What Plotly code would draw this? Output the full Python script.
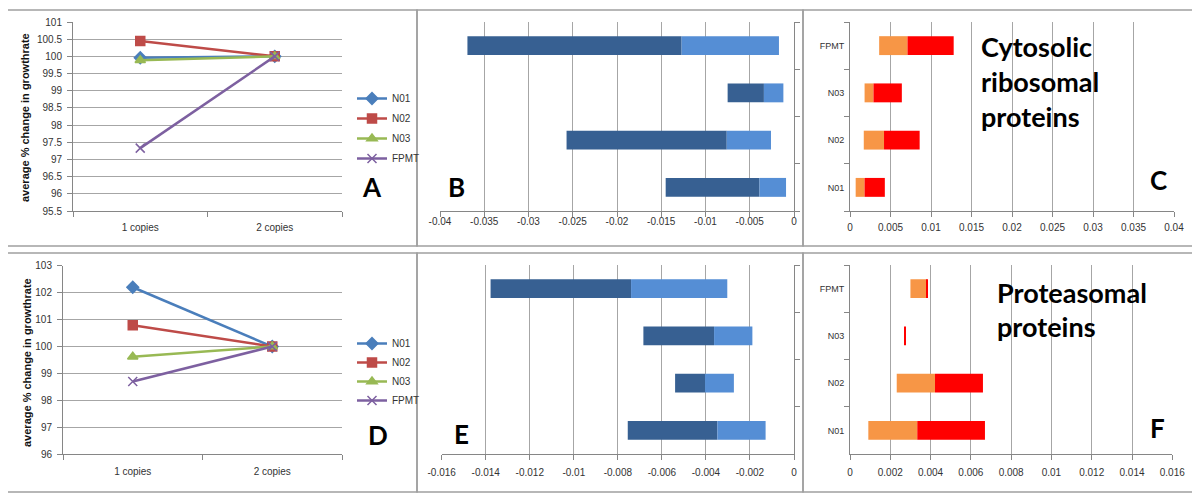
import plotly.graph_objects as go

W, H = 1200, 496
OFF = 8  # page body margin: the figure div starts 8px right/down in the window

# ---------------- data ----------------
copies = ["1 copies", "2 copies"]
series_names = ["N01", "N02", "N03", "FPMT"]

# Panel A (cytosolic ribosomal proteins) - average % change in growthrate
a_n01 = [99.96, 100.0]
a_n02 = [100.45, 100.0]
a_n03 = [99.89, 100.0]
a_fpmt = [97.33, 100.0]

# Panel D (proteasomal proteins)
d_n01 = [102.2, 100.0]
d_n02 = [100.79, 100.0]
d_n03 = [99.62, 100.0]
d_fpmt = [98.70, 100.0]

bar_cats = ["N01", "N02", "N03", "FPMT"]

# Panel B: floating bars (low -> mid dark, mid -> high light)
b_low = [-0.0145, -0.0257, -0.0075, -0.0369]
b_mid = [-0.0039, -0.0076, -0.0034, -0.0127]
b_high = [-0.0009, -0.0026, -0.0012, -0.0017]

# Panel C
c_low = [0.0007, 0.0017, 0.0018, 0.0036]
c_mid = [0.0018, 0.0042, 0.0029, 0.0071]
c_high = [0.0043, 0.0086, 0.0064, 0.0128]

# Panel E
e_low = [-0.00755, -0.0054, -0.00684, -0.01378]
e_mid = [-0.00348, -0.00404, -0.00363, -0.0074]
e_high = [-0.00129, -0.00273, -0.00189, -0.00303]

# Panel F
f_low = [0.00091, 0.00232, 0.0027, 0.0030]
f_mid = [0.00334, 0.00422, 0.0027, 0.0038]
f_high = [0.0067, 0.0066, 0.00277, 0.00385]

# tick labels
a_ticks = [95.5, 96, 96.5, 97, 97.5, 98, 98.5, 99, 99.5, 100, 100.5, 101]
d_ticks = [96, 97, 98, 99, 100, 101, 102, 103]
b_tickvals = [-0.04, -0.035, -0.03, -0.025, -0.02, -0.015, -0.01, -0.005, 0]
b_ticktext = ["-0.04", "-0.035", "-0.03", "-0.025", "-0.02", "-0.015", "-0.01", "-0.005", "0"]
c_tickvals = [0, 0.005, 0.01, 0.015, 0.02, 0.025, 0.03, 0.035, 0.04]
c_ticktext = ["0", "0.005", "0.01", "0.015", "0.02", "0.025", "0.03", "0.035", "0.04"]
e_tickvals = [-0.016, -0.014, -0.012, -0.01, -0.008, -0.006, -0.004, -0.002, 0]
e_ticktext = ["-0.016", "-0.014", "-0.012", "-0.01", "-0.008", "-0.006", "-0.004", "-0.002", "0"]
f_tickvals = [0, 0.002, 0.004, 0.006, 0.008, 0.01, 0.012, 0.014, 0.016]
f_ticktext = ["0", "0.002", "0.004", "0.006", "0.008", "0.01", "0.012", "0.014", "0.016"]

# ---------------- styles ----------------
line_colors = ["#4A7EBB", "#BE4B48", "#98B954", "#7D60A0"]
markers = ["diamond", "square", "triangle-up", "x-thin"]
marker_sizes = [9, 9, 9, 9]
dark_blue, light_blue = "#376092", "#558ED5"
orange, red = "#F79646", "#FF0000"
grid_c = "#A6A6A6"
axis_c = "#868686"
tick_font = dict(family="Liberation Sans, Arial", size=10, color="#333333")
big_font = "Lato, Calibri, sans-serif"


def dx(px):
    return (px - OFF) / W


def dy(py):
    return 1 - (py - OFF) / H


fig = go.Figure()

# ---------- line panels ----------
for vals_list, xa, ya, leg in [
    ([a_n01, a_n02, a_n03, a_fpmt], "x", "y", "legend"),
    ([d_n01, d_n02, d_n03, d_fpmt], "x4", "y4", "legend2"),
]:
    for i, vals in enumerate(vals_list):
        fig.add_trace(go.Scatter(
            x=copies, y=vals, mode="lines+markers", name=series_names[i],
            line=dict(color=line_colors[i], width=2.5),
            marker=dict(symbol=markers[i], size=marker_sizes[i], color=line_colors[i],
                        line=dict(color=line_colors[i], width=1.5)),
            xaxis=xa, yaxis=ya, legend=leg, legendgroup=leg + series_names[i],
            showlegend=True,
        ))

# ---------- bar panels ----------
def add_float_bars(low, mid, high, c1, c2, xa, ya):
    fig.add_trace(go.Bar(
        y=bar_cats, x=[m - l for l, m in zip(low, mid)], base=low, orientation="h",
        marker=dict(color=c1, line=dict(width=0)), width=0.4,
        xaxis=xa, yaxis=ya, showlegend=False))
    fig.add_trace(go.Bar(
        y=bar_cats, x=[h - m for m, h in zip(mid, high)], base=mid, orientation="h",
        marker=dict(color=c2, line=dict(width=0)), width=0.4,
        xaxis=xa, yaxis=ya, showlegend=False))


add_float_bars(b_low, b_mid, b_high, dark_blue, light_blue, "x2", "y2")
add_float_bars(c_low, c_mid, c_high, orange, red, "x3", "y3")
add_float_bars(e_low, e_mid, e_high, dark_blue, light_blue, "x5", "y5")
add_float_bars(f_low, f_mid, f_high, orange, red, "x6", "y6")

# ---------- axes ----------
def cat_xaxis(x0, x1, anchor, standoff):
    return dict(domain=[dx(x0), dx(x1)], anchor=anchor, type="category",
                range=[-0.5, 1.5], showgrid=False, showline=True, linecolor=axis_c,
                linewidth=1, ticks="outside", ticklen=5, tickcolor=axis_c,
                tickson="boundaries", tickfont=tick_font, zeroline=False,
                ticklabelstandoff=standoff, fixedrange=True, automargin=False)


def num_yaxis(y0, y1, anchor, rng, ticks):
    return dict(domain=[dy(y1), dy(y0)], anchor=anchor, range=rng,
                tickvals=ticks, showgrid=True, gridcolor=grid_c, gridwidth=1,
                showline=True, linecolor=axis_c, linewidth=1, ticks="outside",
                ticklen=5, tickcolor=axis_c, tickfont=tick_font, zeroline=False,
                ticklabelstandoff=3, fixedrange=True, automargin=False)


def num_xaxis(x0, x1, anchor, rng, tv, tt, standoff):
    return dict(domain=[dx(x0), dx(x1)], anchor=anchor, range=rng,
                tickvals=tv, ticktext=tt, showgrid=True, gridcolor=grid_c, gridwidth=1,
                showline=True, linecolor=axis_c, linewidth=1, ticks="outside",
                ticklen=5, tickcolor=axis_c, tickfont=tick_font, zeroline=False,
                ticklabelstandoff=standoff, fixedrange=True, automargin=False)


def cat_yaxis(y0, y1, anchor, side, labels):
    return dict(domain=[dy(y1), dy(y0)], anchor=anchor, type="category",
                range=[-0.5, 3.5], side=side, showgrid=False, showline=True,
                linecolor=axis_c, linewidth=1, ticks="outside", ticklen=5,
                tickcolor=axis_c, tickson="boundaries", showticklabels=labels,
                tickfont=dict(family="Liberation Sans, Arial", size=9, color="#333333"),
                zeroline=False, ticklabelstandoff=3, fixedrange=True, automargin=False)


legend_font = dict(family="Liberation Sans, Arial", size=10, color="#333333")

fig.update_layout(
    width=W, height=H, autosize=False,
    margin=dict(l=0, r=0, t=0, b=0, pad=0, autoexpand=False),
    paper_bgcolor="white", plot_bgcolor="white", barmode="overlay",
    xaxis=cat_xaxis(73, 342, "y", 7),
    yaxis=num_yaxis(22, 211, "x", [95.5, 101], a_ticks),
    xaxis2=num_xaxis(440, 794, "y2", [-0.04, 0], b_tickvals, b_ticktext, -4),
    yaxis2=cat_yaxis(22, 211, "x2", "right", False),
    xaxis3=num_xaxis(850, 1174, "y3", [0, 0.04], c_tickvals, c_ticktext, 2),
    yaxis3=cat_yaxis(22, 211, "x3", "left", True),
    xaxis4=cat_xaxis(63, 342, "y4", 8),
    yaxis4=num_yaxis(265.7, 454.3, "x4", [96, 103], d_ticks),
    xaxis5=num_xaxis(441.7, 794, "y5", [-0.016, 0], e_tickvals, e_ticktext, 4),
    yaxis5=cat_yaxis(265, 454, "x5", "right", False),
    xaxis6=num_xaxis(850, 1172.3, "y6", [0, 0.016], f_tickvals, f_ticktext, 4),
    yaxis6=cat_yaxis(265, 454, "x6", "left", True),
    legend=dict(x=dx(352), y=dy(84), xanchor="left", yanchor="top",
                font=legend_font, bgcolor="rgba(0,0,0,0)", itemwidth=30,
                tracegroupgap=1),
    legend2=dict(x=dx(352), y=dy(329), xanchor="left", yanchor="top",
                 font=legend_font, bgcolor="rgba(0,0,0,0)", itemwidth=30,
                 tracegroupgap=0),
    showlegend=True,
)

# ---------- panel borders ----------
border = dict(color="#A0A0A0", width=1.5)
for (x0, y0, x1, y1) in [
    (4, 10, 417, 246), (417, 10, 803, 246), (803, 10, 1196, 246),
    (4, 253, 417, 492), (417, 253, 803, 492), (803, 253, 1196, 492),
]:
    fig.add_shape(type="rect", xref="paper", yref="paper",
                  x0=dx(x0), x1=dx(x1), y0=dy(y1), y1=dy(y0),
                  line=border, fillcolor="rgba(0,0,0,0)", layer="below")

# ---------- annotations ----------
ann = []
ytitle = "<b>average % change in growthrate</b>"
ann.append(dict(x=dx(25), y=dy(118), text=ytitle, textangle=-90, showarrow=False,
                xref="paper", yref="paper", xanchor="center", yanchor="middle",
                font=dict(family="Liberation Sans, Arial", size=11, color="#111")))
ann.append(dict(x=dx(27), y=dy(363), text=ytitle, textangle=-90, showarrow=False,
                xref="paper", yref="paper", xanchor="center", yanchor="middle",
                font=dict(family="Liberation Sans, Arial", size=11, color="#111")))

for letter, px, py in [("A", 372, 187), ("B", 456, 187), ("C", 1158, 180),
                       ("D", 378, 435), ("E", 461, 434), ("F", 1157, 428)]:
    ann.append(dict(x=dx(px), y=dy(py), text="<b>%s</b>" % letter, showarrow=False,
                    xref="paper", yref="paper", xanchor="center", yanchor="middle",
                    font=dict(family=big_font, size=26, color="#000")))

for txt, py in [("Cytosolic", 46), ("ribosomal", 81), ("proteins", 116)]:
    ann.append(dict(x=dx(979), y=dy(py), text="<b>%s</b>" % txt, showarrow=False,
                    xref="paper", yref="paper", xanchor="left", yanchor="middle",
                    font=dict(family=big_font, size=27, color="#000")))
for txt, py in [("Proteasomal", 292), ("proteins", 326)]:
    ann.append(dict(x=dx(995), y=dy(py), text="<b>%s</b>" % txt, showarrow=False,
                    xref="paper", yref="paper", xanchor="left", yanchor="middle",
                    font=dict(family=big_font, size=27, color="#000")))

fig.update_layout(annotations=ann)

fig.write_html("out.html")
